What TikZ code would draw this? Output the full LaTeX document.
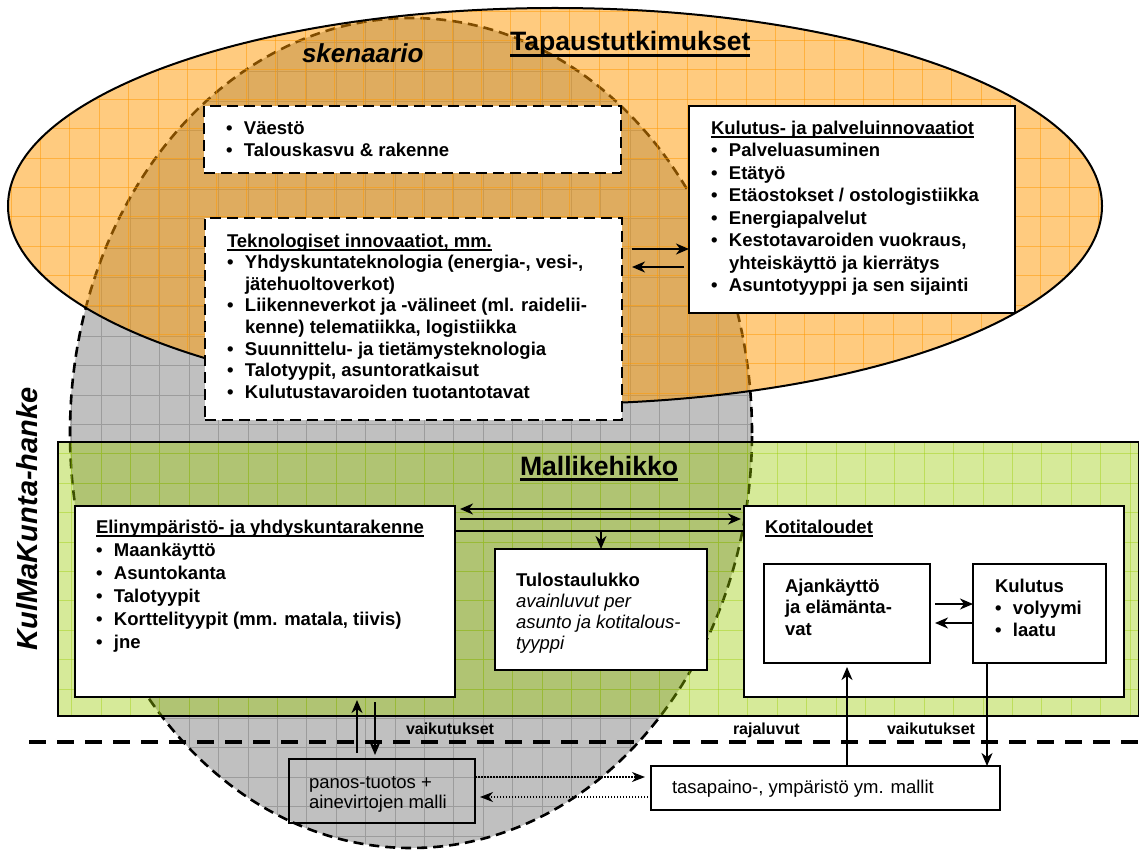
\documentclass[tikz,border=0pt]{standalone}
\usepackage{fontspec}
\setmainfont{Liberation Sans}
\usetikzlibrary{arrows.meta,calc}

\definecolor{ellgray}{HTML}{C0C0C0}
\definecolor{gridgray}{HTML}{9C9C9C}
\definecolor{tangerine}{HTML}{FF9900}
\definecolor{limegreen}{HTML}{99CC00}

% underlined text, Word style (the rule crosses the descenders)
\newsavebox\ulsave
\newcommand\ulx[1]{\sbox\ulsave{#1}\rlap{\rule[-3.6pt]{\wd\ulsave}{1.7pt}}\usebox\ulsave}
\newcommand\ulbig[1]{\sbox\ulsave{#1}\rlap{\rule[-5.8pt]{\wd\ulsave}{2.6pt}}\usebox\ulsave}
% bullet and hanging indent of list lines
\newcommand\bul{\makebox[18pt][l]{\textbullet}}
\newcommand\ind{\hspace*{18pt}}
% square grid of a pattern fill
\newcommand\gridlines[2]{%
  \foreach \k in {0,...,39} {\draw[#2] ({#1+\k*29.4},0) -- ({#1+\k*29.4},850);}
  \foreach \k in {0,...,29} {\draw[#2] (0,{#1+\k*29.4}) -- (1139,{#1+\k*29.4});}
}

\begin{document}
\begin{tikzpicture}[x=1pt,y=-1pt,
  wbox/.style={draw, fill=white, line width=2.6pt, inner sep=0pt, outer sep=0pt, anchor=north west},
  dbox/.style={wbox, dash pattern=on 11pt off 6pt},
  txt/.style={inner sep=0pt, outer sep=0pt, anchor=north west, align=left,
              font=\bfseries\fontsize{18.5}{#1}\selectfont},
  rtxt/.style={inner sep=0pt, outer sep=0pt, anchor=north west, align=left,
              font=\fontsize{18.5}{#1}\selectfont},
  title/.style={inner sep=0pt, outer sep=0pt, anchor=base west,
              font=\bfseries\fontsize{26.6}{30}\selectfont},
  lbl/.style={inner sep=0pt, outer sep=0pt, anchor=base west,
              font=\bfseries\fontsize{16}{19}\selectfont},
  arr/.style={line width=1.8pt, -{Stealth[length=13pt,width=11pt,inset=4pt]}},
  ln/.style={line width=1.8pt},
  darr/.style={line width=1.5pt, dash pattern=on 1.5pt off 1.5pt,
              -{Stealth[length=13pt,width=10pt,inset=4pt]}},
]
\useasboundingbox (0,0) rectangle (1139,850);
\fill[white] (0,0) rectangle (1139,850);

% --- scenario ellipse (grey, dashed) ---
\fill[ellgray] (411,433) ellipse [x radius=341pt, y radius=415pt];
\begin{scope}
  \clip (411,433) ellipse [x radius=341pt, y radius=415pt];
  \gridlines{12.9}{gridgray, line width=0.9pt}
\end{scope}
\draw[line width=2.6pt, dash pattern=on 10pt off 6pt] (411,433) ellipse [x radius=341pt, y radius=415pt];

% --- case studies ellipse (orange, translucent) ---
\fill[tangerine, fill opacity=0.5] (555,206) ellipse [x radius=547pt, y radius=198pt];
\begin{scope}
  \clip (555,206) ellipse [x radius=547pt, y radius=198pt];
  \gridlines{11.1}{tangerine, draw opacity=0.5, line width=0.9pt}
\end{scope}
\draw[line width=2pt] (555,206) ellipse [x radius=547pt, y radius=198pt];

% --- model framework band (green, translucent) ---
\node[fill=limegreen, fill opacity=0.4, inner sep=0pt, outer sep=0pt, anchor=north west,
      minimum width=1081pt, minimum height=274pt] (malli) at (58,442) {};
\begin{scope}
  \clip (malli.north west) rectangle (malli.south east);
  \gridlines{12.9}{limegreen, draw opacity=0.4, line width=0.9pt}
\end{scope}
\draw[line width=2pt] (malli.north west) rectangle (malli.south east);

% --- boundary between the framework and outside models ---
\draw[line width=4pt, dash pattern=on 17pt off 11pt] (29,742) -- (1139,742);

% --- titles ---
\node[title] (ttapaus) at (510,51) {\ulbig{Tapaustutkimukset}};
\node[title, font=\bfseries\itshape\fontsize{26}{30}\selectfont] (tsken) at (302,63) {skenaario};
\node[title] (tmalli) at (520,475) {\ulbig{Mallikehikko}};
\node[title, rotate=90, font=\bfseries\itshape\fontsize{29}{32}\selectfont] (thanke) at (37,650) {KulMaKunta-hanke};

% --- scenario boxes ---
\node[dbox, minimum width=417pt, minimum height=67pt] (vaesto) at (204,106) {};
\node[txt=22] (vaestot) at (226,119.6) {\strut\bul Väestö\\
  \bul Talouskasvu \& rakenne};

\node[dbox, minimum width=417pt, minimum height=202pt] (tech) at (205,218) {};
\node[txt=21.6] (techt) at (227,231.9) {\strut\ulx{Teknologiset innovaatiot, mm.}\\
  \bul Yhdyskuntateknologia (energia-, vesi-,\\
  \ind jätehuoltoverkot)\\
  \bul Liikenneverkot ja -välineet (ml. raidelii-\\
  \ind kenne) telematiikka, logistiikka\\
  \bul Suunnittelu- ja tietämysteknologia\\
  \bul Talotyypit, asuntoratkaisut\\
  \bul Kulutustavaroiden tuotantotavat};

\node[wbox, minimum width=326pt, minimum height=207pt] (kulu) at (689,106) {};
\node[txt=22.5] (kulut) at (711,118.3) {\strut\ulx{Kulutus- ja palveluinnovaatiot}\\
  \bul Palveluasuminen\\
  \bul Etätyö\\
  \bul Etäostokset / ostologistiikka\\
  \bul Energiapalvelut\\
  \bul Kestotavaroiden vuokraus,\\
  \ind yhteiskäyttö ja kierrätys\\
  \bul Asuntotyyppi ja sen sijainti};

% --- model framework boxes ---
\node[wbox, minimum width=380pt, minimum height=191pt] (elin) at (75,506) {};
\node[txt=23] (elint) at (96,516.9) {\strut\ulx{Elinympäristö- ja yhdyskuntarakenne}\\
  \bul Maankäyttö\\
  \bul Asuntokanta\\
  \bul Talotyypit\\
  \bul Korttelityypit (mm. matala, tiivis)\\
  \bul jne};

\node[wbox, minimum width=212pt, minimum height=121pt] (tulos) at (495,549) {};
\node[txt=21] (tulost) at (516,571.3) {\strut Tulostaulukko\\
  \mdseries\itshape avainluvut per\\
  \mdseries\itshape asunto ja kotitalous-\\
  \mdseries\itshape tyyppi};

\node[wbox, minimum width=380pt, minimum height=191pt] (koti) at (744,506) {};
\node[txt=22] (kotit) at (765,517.6) {\strut\ulx{Kotitaloudet}};

\node[wbox, minimum width=166pt, minimum height=99pt] (ajan) at (764,564) {};
\node[txt=21.5] (ajant) at (785,577) {\strut Ajankäyttö\\
  ja elämänta-\\
  vat};

\node[wbox, minimum width=133pt, minimum height=99pt] (kulus) at (973,564) {};
\node[txt=22] (kulust) at (995,576.6) {\strut Kulutus\\
  \bul volyymi\\
  \bul laatu};

% --- outside models ---
\node[wbox, line width=2.8pt, fill=none, minimum width=186pt, minimum height=64pt] (panos) at (289,759) {};
\node[rtxt=20] (panost) at (309,774) {\strut panos-tuotos +\\
  ainevirtojen malli};

\node[wbox, line width=2.2pt, minimum width=349pt, minimum height=44pt] (tasa) at (651,766) {};
\node[rtxt=22] (tasat) at (672,777.6) {\strut tasapaino-, ympäristö ym. mallit};

% --- connectors ---
\draw[arr] ($(tech.east |- 0,249)+(10,0)$) -- (kulu.west |- 0,249);
\draw[arr] ($(kulu.west |- 0,267)+(-5,0)$) -- ($(tech.east |- 0,267)+(10,0)$);

\draw[arr] ($(koti.west |- 0,509)+(-3,0)$) -- ($(elin.east |- 0,509)+(5,0)$);
\draw[arr] ($(elin.east |- 0,519)+(5,0)$) -- ($(koti.west |- 0,519)+(-3,0)$);
\draw[ln] (elin.east |- 0,531) -- (koti.west |- 0,531);
\coordinate (jako) at (tulos.north |- 0,531);
\draw[arr] (jako) -- (tulos.north);

\draw[arr] ($(panos.north -| 357,0)+(0,-6)$) -- ($(elin.south -| 357,0)+(0,3)$);
\draw[arr] ($(elin.south -| 375,0)+(0,5)$) -- ($(panos.north -| 375,0)+(0,-4)$);

\draw[darr] (panos.east |- 0,777) -- ($(tasa.west |- 0,777)+(-6,0)$);
\draw[darr] (tasa.west |- 0,797) -- ($(panos.east |- 0,797)+(5,0)$);

\draw[arr] (tasa.north -| 847,0) -- ($(ajan.south -| 847,0)+(0,4)$);
\draw[arr] (kulus.south -| 987,0) -- (tasa.north -| 987,0);

\draw[arr] ($(ajan.east |- 0,604)+(5,0)$) -- (kulus.west |- 0,604);
\draw[arr] (kulus.west |- 0,623) -- ($(ajan.east |- 0,623)+(5,0)$);

% --- connector labels ---
\node[lbl] (lvaik1) at (406,734) {vaikutukset};
\node[lbl] (lraja) at (733,734) {rajaluvut};
\node[lbl] (lvaik2) at (887,734) {vaikutukset};
\end{tikzpicture}
\end{document}
